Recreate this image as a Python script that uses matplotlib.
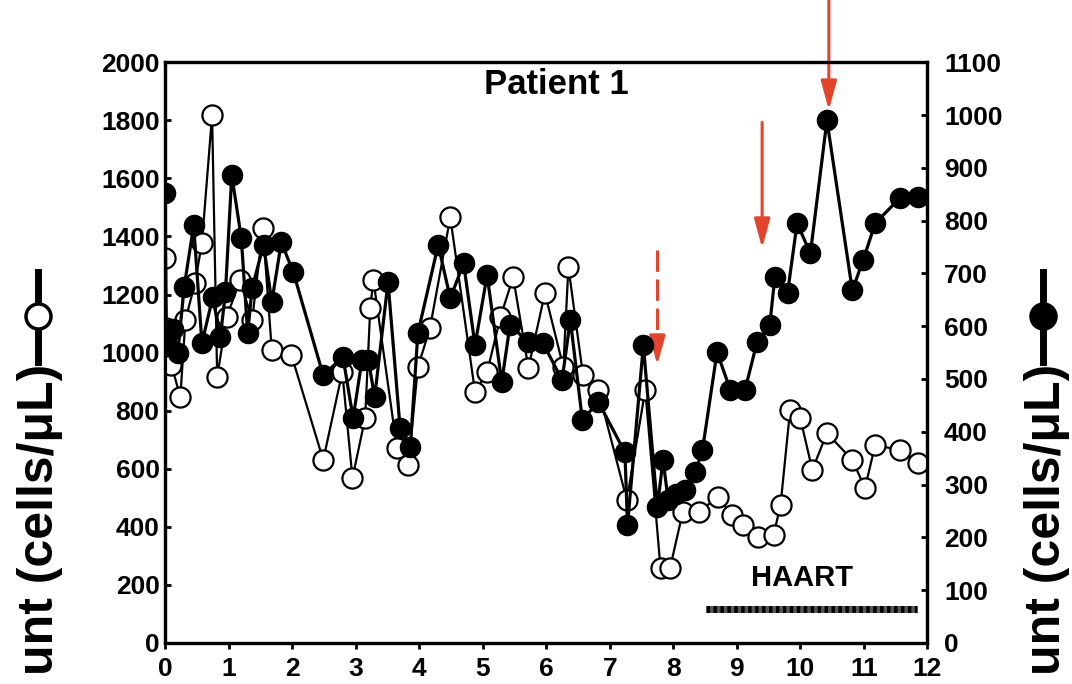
import matplotlib
matplotlib.use("Agg")
import matplotlib.pyplot as plt
from matplotlib.lines import Line2D

plt.rcParams["font.family"] = ["Liberation Sans", "DejaVu Sans"]
plt.rcParams["font.weight"] = "bold"

# open circles, left axis (cells/uL)
open_x = [0.0, 0.02, 0.1, 0.24, 0.32, 0.47, 0.58, 0.74, 0.82, 0.97, 1.18, 1.37,
          1.54, 1.68, 1.99, 2.49, 2.79, 2.95, 3.15, 3.23, 3.28, 3.65, 3.83, 3.98,
          4.17, 4.49, 4.88, 5.07, 5.28, 5.48, 5.72, 5.98, 6.27, 6.35, 6.58, 6.82,
          7.27, 7.56, 7.8, 7.95, 8.15, 8.4, 8.7, 8.93, 9.1, 9.34, 9.58, 9.69,
          9.84, 10.0, 10.19, 10.42, 10.82, 11.02, 11.18, 11.57, 11.86]
open_y = [1325, 1084, 957, 847, 1112, 1239, 1377, 1818, 916, 1122, 1250, 1112,
          1428, 1008, 991, 630, 933, 568, 775, 1153, 1250, 671, 613, 950,
          1084, 1466, 864, 933, 1122, 1260, 947, 1205, 950, 1294, 922, 871,
          492, 871, 258, 258, 450, 450, 503, 440, 406, 365, 372, 475,
          802, 775, 596, 723, 630, 534, 682, 664, 620]

# filled circles, right axis (cells/uL)
filled_x = [0.0, 0.02, 0.12, 0.2, 0.3, 0.45, 0.58, 0.75, 0.87, 0.95, 1.05, 1.2,
            1.3, 1.37, 1.55, 1.68, 1.83, 2.02, 2.49, 2.8, 2.96, 3.1, 3.2, 3.3,
            3.51, 3.7, 3.86, 3.98, 4.3, 4.49, 4.7, 4.88, 5.07, 5.3, 5.43, 5.72,
            5.95, 6.25, 6.38, 6.57, 6.82, 7.24, 7.28, 7.53, 7.75, 7.84, 7.92, 8.05,
            8.19, 8.35, 8.46, 8.69, 8.9, 9.13, 9.32, 9.52, 9.6, 9.8, 9.95, 10.16,
            10.42, 10.82, 10.99, 11.18, 11.57, 11.86]
filled_y = [852, 572, 594, 550, 674, 791, 568, 655, 579, 664, 886, 767,
            587, 672, 754, 646, 759, 702, 507, 542, 426, 536, 536, 466,
            684, 407, 371, 587, 754, 653, 719, 564, 697, 494, 602, 570,
            568, 498, 612, 422, 457, 361, 223, 564, 257, 347, 271, 283,
            290, 324, 365, 551, 479, 479, 570, 602, 693, 663, 795, 738,
            990, 668, 725, 795, 843, 844]

x_ticks = list(range(0, 13))
left_ticks = list(range(0, 2001, 200))
right_ticks = list(range(0, 1101, 100))

# red arrows (left-axis units)
arrow_x = [7.75, 9.40, 10.45]
arrow_top = [1353, 1793, 2213]
arrow_tip = [957, 1360, 1835]
arrow_dashed = [True, False, False]

haart_x = [8.52, 11.84]
haart_y = 117

fig = plt.figure(figsize=(10.72, 6.84), dpi=100)
ax = fig.add_axes([0.154, 0.060, 0.711, 0.849])
ax2 = ax.twinx()

ax.plot(open_x, open_y, color="black", lw=1.6, marker="o", ms=14.5,
        mfc="white", mec="black", mew=1.6, zorder=3)
ax2.plot(filled_x, filled_y, color="black", lw=2.3, marker="o", ms=14.5,
         mfc="black", mec="black", zorder=3)

ax.set_xlim(0, 12)
ax.set_ylim(0, 2000)
ax2.set_ylim(0, 1100)
ax.set_xticks(x_ticks)
ax.set_yticks(left_ticks)
ax2.set_yticks(right_ticks)

for a in (ax, ax2):
    for s in a.spines.values():
        s.set_linewidth(2.3)
ax.tick_params(axis="x", direction="out", length=4, width=2, labelsize=19, pad=6)
ax.tick_params(axis="y", direction="in", length=4, width=2, labelsize=19, pad=4)
ax2.tick_params(axis="y", direction="in", length=4, width=2, labelsize=19, pad=12)
for lab in ax.get_xticklabels() + ax.get_yticklabels() + ax2.get_yticklabels():
    lab.set_fontweight("bold")

ax.text(0.514, 0.962, "Patient 1", transform=ax.transAxes, ha="center",
        va="center", fontsize=25, fontweight="bold")

# HAART bar
ax.plot(haart_x, [haart_y, haart_y], color="#555555", lw=5, solid_capstyle="butt", zorder=2)
ax.plot(haart_x, [haart_y, haart_y], color="black", lw=5, dashes=(0.5, 0.5), zorder=2)
ax.text(10.03, 224, "HAART", ha="center", va="center", fontsize=21, fontweight="bold")

red = "#e2442c"
for x, top, tip, dashed in zip(arrow_x, arrow_top, arrow_tip, arrow_dashed):
    if dashed:
        mid = tip + 0.18 * (top - tip)
        ax.plot([x, x], [top, mid], color=red, lw=2.2, dashes=(7, 2.5),
                clip_on=False, zorder=5)
        start = mid
    else:
        start = top
    ax.annotate("", xy=(x, tip), xytext=(x, start), annotation_clip=False,
                arrowprops=dict(arrowstyle="-|>,head_length=1.1,head_width=0.3",
                                mutation_scale=16, color=red, lw=2.2,
                                shrinkA=0, shrinkB=0), zorder=5)

# rotated axis labels with series symbols
fig.text(40 / 1072, 1 - 364 / 684, "unt (cells/\u03bcL)", rotation=90,
         ha="center", va="top", fontsize=36, fontweight="bold")
fig.text(1047 / 1072, 1 - 364 / 684, "unt (cells/\u03bcL)", rotation=90,
         ha="center", va="top", fontsize=36, fontweight="bold")

for xp, face in ((38, "white"), (1043, "black")):
    fx = xp / 1072
    fig.add_artist(Line2D([fx, fx], [1 - 272 / 684, 1 - 362 / 684], color="black",
                          lw=5, transform=fig.transFigure))
    fig.add_artist(Line2D([fx], [1 - 316 / 684], marker="o", ms=18, mfc=face,
                          mec="black", mew=2.5, transform=fig.transFigure))

fig.savefig("out.png", dpi=100)
